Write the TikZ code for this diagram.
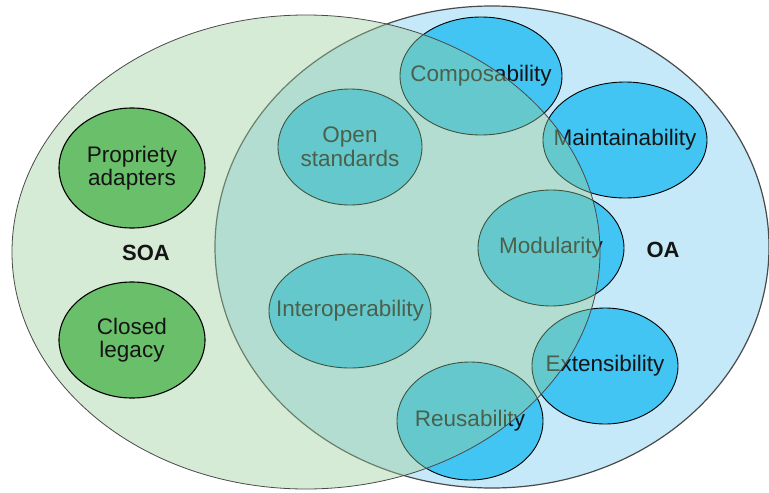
\documentclass[tikz,border=0pt]{standalone}
\usepackage{fontspec}
\setmainfont{Liberation Sans}
\usetikzlibrary{shapes.geometric}
\definecolor{oafill}{HTML}{C5E9F8}
\definecolor{qualfill}{HTML}{42C5F2}
\definecolor{soafill}{RGB}{153,206,153}
\definecolor{legacyfill}{HTML}{6ABF6A}
\definecolor{rimgray}{HTML}{4A4A4A}
\definecolor{inktext}{HTML}{141414}
\begin{document}
\begin{tikzpicture}[x=1pt,y=-1pt,
  area/.style={ellipse, inner sep=0pt, draw=rimgray},
  quality/.style={ellipse, inner sep=0pt, draw=black, line width=0.9pt,
    fill=qualfill},
  legacy/.style={ellipse, inner sep=0pt, draw=black, line width=1.1pt,
    fill=legacyfill},
  caption/.style={inner sep=0pt, text=inktext, align=center,
    font=\fontsize{22.5}{23.5}\selectfont},
  arealabel/.style={font=\fontsize{22}{24}\selectfont\bfseries, text=inktext}]
\useasboundingbox (0,0) rectangle (769,493);

% OA region
\node[area, line width=1.2pt, fill=oafill, minimum width=554pt, minimum height=482pt] (oa) at (492,247) {};

% qualities of object orientation; captions are centred labels so the
% ellipse size is fixed by the minimum dimensions alone
\node[quality, minimum width=162pt, minimum height=118pt,
  label={[caption]center:Composability}] (comp) at (481,76) {};
\node[quality, minimum width=164pt, minimum height=116pt,
  label={[caption]center:Maintainability}] (maint) at (625,140) {};
\node[quality, minimum width=146pt, minimum height=116pt,
  label={[caption]center:Modularity}] (modul) at (551,248) {};
\node[quality, minimum width=146pt, minimum height=116pt,
  label={[caption]center:Extensibility}] (ext) at (605,366) {};
\node[quality, minimum width=146pt, minimum height=118pt,
  label={[caption]center:Reusability}] (reuse) at (470,421) {};
\node[quality, minimum width=144pt, minimum height=116pt,
  label={[caption]center:{Open\\standards}}] (open) at (350,147) {};
\node[quality, minimum width=162pt, minimum height=114pt,
  label={[caption]center:Interoperability}] (interop) at (350,311) {};

% SOA region, translucent over the OA region
\node[area, line width=0.8pt, fill=soafill, fill opacity=0.41, minimum width=588pt, minimum height=474pt] (soa) at (306,252) {};

% legacy parts of SOA
\node[legacy, minimum width=146pt, minimum height=120pt,
  label={[caption]center:{Propriety\\adapters}}] (prop) at (132,168) {};
\node[legacy, minimum width=146pt, minimum height=116pt,
  label={[caption]center:{Closed\\legacy}}] (closed) at (132,340) {};

% region labels
\node[arealabel] (soalabel) at (146,253) {SOA};
\node[arealabel] (oalabel) at (663,250) {OA};
\end{tikzpicture}
\end{document}
